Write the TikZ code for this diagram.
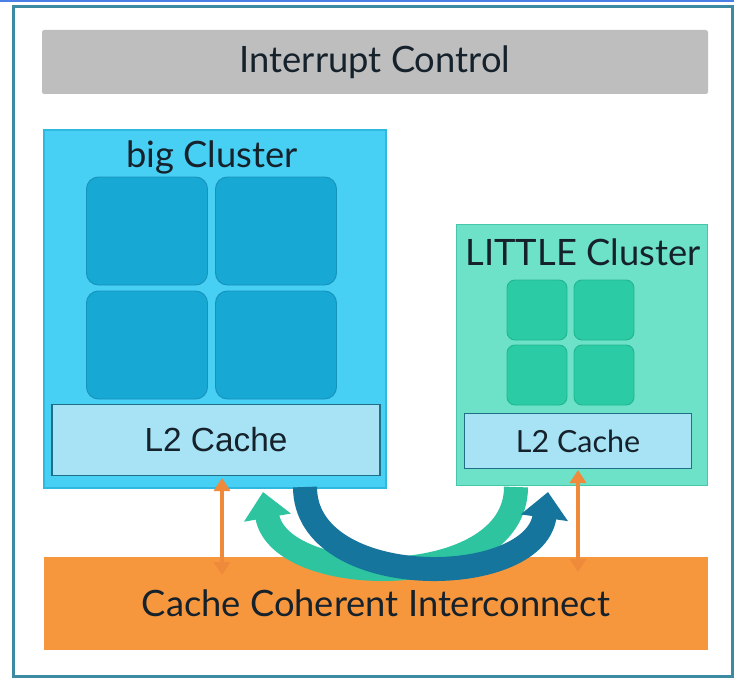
\documentclass[tikz,border=0pt]{standalone}
\usepackage{fontspec}
\setmainfont{Lato}
\newfontfamily\arialfont{Liberation Sans}
\usetikzlibrary{positioning,arrows.meta}
\definecolor{framec}{HTML}{3C8BA3}
\definecolor{topline}{HTML}{4A80E6}
\definecolor{ctrlgray}{HTML}{BEBEBE}
\definecolor{bigfill}{HTML}{48D0F4}
\definecolor{bigdraw}{HTML}{2FB8E0}
\definecolor{bigcore}{HTML}{18A8D4}
\definecolor{bigcoredraw}{HTML}{1593BC}
\definecolor{litfill}{HTML}{6EE2C8}
\definecolor{litdraw}{HTML}{45C7A8}
\definecolor{litcore}{HTML}{2BCBA6}
\definecolor{litcoredraw}{HTML}{22B592}
\definecolor{cachefill}{HTML}{A7E3F4}
\definecolor{cachedraw}{HTML}{1F6F86}
\definecolor{icfill}{HTML}{F7973D}
\definecolor{icarrow}{HTML}{EE8A3A}
\definecolor{tealarrow}{HTML}{2EC4A0}
\definecolor{bluearrow}{HTML}{15759C}
\definecolor{inkc}{HTML}{15212B}
\def\pxu{0.03cm}

\begin{document}
\begin{tikzpicture}[
  x=0.03cm, y=-0.03cm,
  bar/.style={inner sep=0pt, outer sep=0pt, text=inkc, font=\fontsize{31}{34}\selectfont},
  cluster/.style={draw, line width=1.5pt, inner sep=0pt, outer sep=0pt},
  core/.style={draw, line width=0.8pt, rounded corners=12*\pxu, inner sep=0pt},
  cache/.style={draw=cachedraw, line width=1.2pt, fill=cachefill, inner sep=0pt,
                outer sep=0pt, text=inkc, font=\fontsize{26}{28}\selectfont},
  title/.style={inner sep=0pt, text=inkc, font=\fontsize{31}{34}\selectfont},
  link/.style={{Triangle[width=16*\pxu,length=13*\pxu]}-{Triangle[width=16*\pxu,length=13*\pxu]},
               icarrow, line width=4*\pxu},
  swap/.style={-{Triangle[width=46*\pxu,length=26*\pxu]}, line width=24*\pxu},
  ]
  \fill[white] (0,0) rectangle (734,678);
  \useasboundingbox (0,0) rectangle (734,678);
  \draw[topline, line width=2*\pxu] (0,1) -- (734,1);
  \draw[framec, line width=3*\pxu] (13,7) rectangle (732,676);

  \node[bar, fill=ctrlgray, rounded corners=2pt, minimum width=666*\pxu, minimum height=64*\pxu]
    (irq) at (375,62) {Interrupt Control};

  % big cluster
  \node[cluster, draw=bigdraw, fill=bigfill, minimum width=342*\pxu, minimum height=358*\pxu]
    (big) at (215,309) {};
  \node[title] (bigt) at (212,157) {big Cluster};
  \node[core, fill=bigcore, draw=bigcoredraw, minimum width=121*\pxu, minimum height=108*\pxu] (b1) at (147,231) {};
  \node[core, fill=bigcore, draw=bigcoredraw, minimum width=121*\pxu, minimum height=108*\pxu] (b2) at (276,231) {};
  \node[core, fill=bigcore, draw=bigcoredraw, minimum width=121*\pxu, minimum height=108*\pxu] (b3) at (147,345) {};
  \node[core, fill=bigcore, draw=bigcoredraw, minimum width=121*\pxu, minimum height=108*\pxu] (b4) at (276,345) {};
  \node[cache, minimum width=328*\pxu, minimum height=71*\pxu, font=\arialfont\fontsize{28.5}{30}\selectfont]
    (bigl2) at (216,440) {L2 Cache};

  % LITTLE cluster
  \node[cluster, draw=litdraw, fill=litfill, minimum width=251*\pxu, minimum height=261*\pxu]
    (lit) at (582,355) {};
  \node[title] (litt) at (583,252) {LITTLE Cluster};
  \node[core, fill=litcore, draw=litcoredraw, rounded corners=8*\pxu, minimum width=60*\pxu, minimum height=60*\pxu] (l1) at (537,310) {};
  \node[core, fill=litcore, draw=litcoredraw, rounded corners=8*\pxu, minimum width=60*\pxu, minimum height=60*\pxu] (l2) at (604,310) {};
  \node[core, fill=litcore, draw=litcoredraw, rounded corners=8*\pxu, minimum width=60*\pxu, minimum height=60*\pxu] (l3) at (537,375) {};
  \node[core, fill=litcore, draw=litcoredraw, rounded corners=8*\pxu, minimum width=60*\pxu, minimum height=60*\pxu] (l4) at (604,375) {};
  \node[cache, minimum width=227*\pxu, minimum height=55*\pxu] (litl2) at (578,441) {L2 Cache};

  % interconnect
  \node[bar, fill=icfill, minimum width=664*\pxu, minimum height=93*\pxu]
    (cci) at (376,603) {Cache Coherent Interconnect};

  \coordinate (bigin) at (222,478);
  \coordinate (bigout) at (222,575);
  \coordinate (litin) at (578,470);
  \coordinate (litout) at (578,572);
  \draw[link] (bigin) -- (bigout);
  \draw[link] (litin) -- (litout);

  % migration arrows
  \coordinate (tstart) at (516,487);
  \coordinate (tend) at (263,492);
  \coordinate (bstart) at (305,487);
  \coordinate (bend) at (548,492);
  \draw[swap, tealarrow] (tstart) .. controls (516,592) and (280,590) .. (tend);
  \draw[swap, bluearrow] (bstart) .. controls (305,592) and (534,590) .. (bend);
\end{tikzpicture}
\end{document}
